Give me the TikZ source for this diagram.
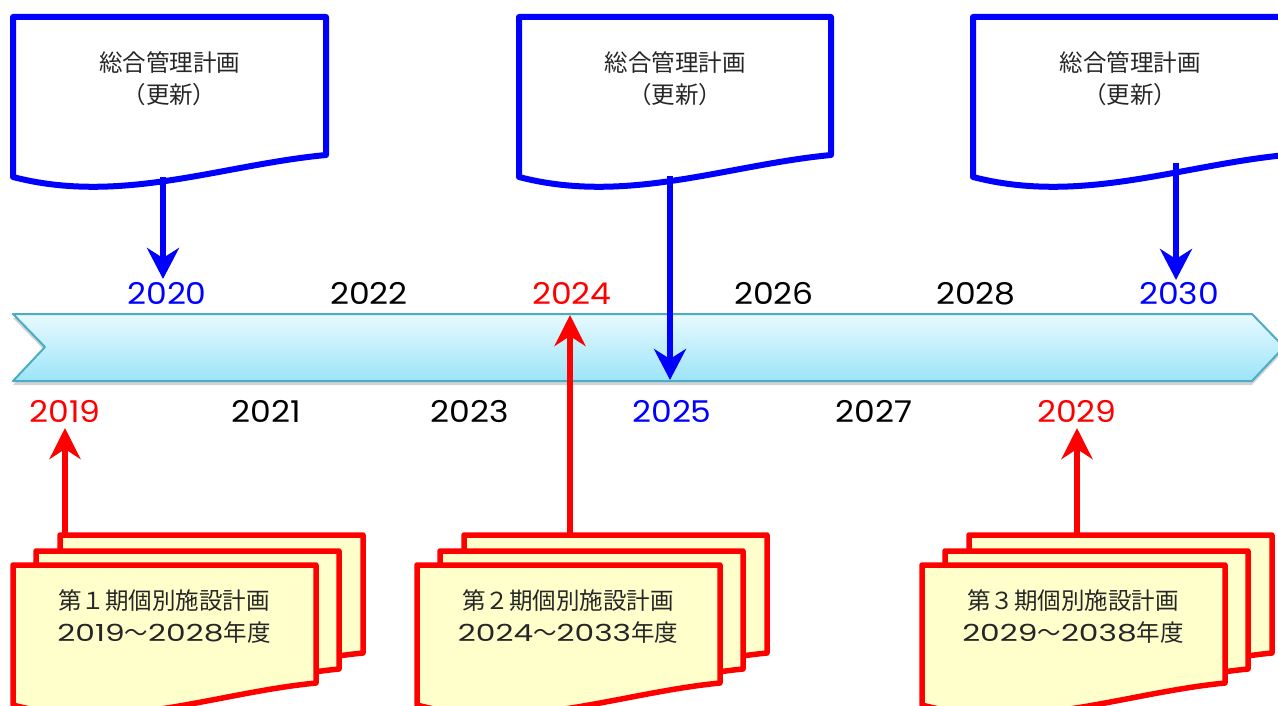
\documentclass[tikz,border=0pt]{standalone}
\usepackage{fontspec}
\setmainfont{Noto Sans CJK JP}
\newfontfamily\yearfont[FakeStretch=1.1]{Poppins}
\newfontfamily\numfont[FakeStretch=1.33]{Poppins}
\usetikzlibrary{arrows.meta,shadows}
\definecolor{docblue}{RGB}{0,0,255}
\definecolor{docred}{RGB}{255,0,0}
\definecolor{docfill}{RGB}{255,255,204}
\definecolor{bandline}{RGB}{75,172,198}
\definecolor{bandtop}{RGB}{232,250,255}
\definecolor{bandbot}{RGB}{156,228,249}
\newcommand\mydoc[5]{%
 \pgfmathsetmacro\dR{#2+#4}%
 \pgfmathsetmacro\dB{#3+#5}%
 \pgfmathsetmacro\dBr{#3+#5-22}%
 \pgfmathsetmacro\cAx{#2+0.344*#4}%
 \pgfmathsetmacro\cAy{#3+#5+28}%
 \pgfmathsetmacro\cBx{#2+0.664*#4}%
 \pgfmathsetmacro\cBy{#3+#5-12}%
 \draw[#1] (#2,#3) -- (\dR,#3) -- (\dR,\dBr) .. controls (\cBx,\cBy) and (\cAx,\cAy) .. (#2,\dB) -- cycle;
}
\tikzset{
 bluedoc/.style={draw=docblue,line width=6pt,fill=white,line join=round},
 reddoc/.style={draw=docred,line width=5.5pt,fill=docfill,line join=round},
 doctext/.style={align=center,font=\fontsize{23.5}{32}\selectfont,text=black!85},
 yr/.style={anchor=base,font=\yearfont\fontsize{30}{30}\selectfont},
 bluearrow/.style={draw=docblue,line width=5.5pt,-{Stealth[length=31pt,width=32pt,inset=10pt]}},
 redarrow/.style={draw=docred,line width=5.5pt,-{Stealth[length=31pt,width=31pt,inset=10pt]}},
}
\begin{document}
\begin{tikzpicture}[x=1pt,y=-1pt]
\useasboundingbox (0,0) rectangle (1278,706);
\clip (0,0) rectangle (1278,706);
% timeline band
\path[draw=bandline,line width=2pt,line join=round,top color=bandtop,bottom color=bandbot,
  drop shadow={shadow xshift=0pt,shadow yshift=-4pt,opacity=0.35}]
  (13,314) -- (1252,314) -- (1284,347) -- (1252,381) -- (13,381) -- (45,347) -- cycle;
% year labels
\node[yr,text=docblue] (y2020) at (167,304) {2020};
\node[yr] (y2022) at (369,304) {2022};
\node[yr,text=docred] (y2024) at (572,304) {2024};
\node[yr] (y2026) at (774,304) {2026};
\node[yr] (y2028) at (976,304) {2028};
\node[yr,text=docblue] (y2030) at (1179,304) {2030};
\node[yr,text=docred] (y2019) at (65,422) {2019};
\node[yr] (y2021) at (266,422) {2021};
\node[yr] (y2023) at (470,422) {2023};
\node[yr,text=docblue] (y2025) at (672,422) {2025};
\node[yr] (y2027) at (874,422) {2027};
\node[yr,text=docred] (y2029) at (1077,422) {2029};
% blue documents
\mydoc{bluedoc}{13}{17}{313}{160}
\mydoc{bluedoc}{519}{17}{312}{160}
\mydoc{bluedoc}{973}{17}{313}{160}
\node[doctext] (g1) at (169.5,79) {総合管理計画\\（更新）};
\node[doctext] (g2) at (675,79) {総合管理計画\\（更新）};
\node[doctext] (g3) at (1130,79) {総合管理計画\\（更新）};
\coordinate (g1s) at (163,177);
\coordinate (g2s) at (670,176);
\coordinate (g3s) at (1176,163);
\coordinate (g1t) at (163,279);
\coordinate (g2t) at (670,380);
\coordinate (g3t) at (1176,280);
\draw[bluearrow] (g1s) -- (g1t);
\draw[bluearrow] (g2s) -- (g2t);
\draw[bluearrow] (g3s) -- (g3t);
% red document stacks
\foreach \x in {13,417,922}{
  \mydoc{reddoc}{\x+47}{535}{303}{140}
  \mydoc{reddoc}{\x+23}{551}{303}{140}
  \mydoc{reddoc}{\x}{565}{303}{140}
}
\node[doctext] (p1) at (164,617) {第１期個別施設計画\\{\numfont 2019}～{\numfont 2028}年度};
\node[doctext] (p2) at (568,617) {第２期個別施設計画\\{\numfont 2024}～{\numfont 2033}年度};
\node[doctext] (p3) at (1073,617) {第３期個別施設計画\\{\numfont 2029}～{\numfont 2038}年度};
\coordinate (p1s) at (65,537);
\coordinate (p2s) at (570,537);
\coordinate (p3s) at (1077,537);
\coordinate (p1t) at (65,428);
\coordinate (p2t) at (570,315);
\coordinate (p3t) at (1077,428);
\draw[redarrow] (p1s) -- (p1t);
\draw[redarrow] (p2s) -- (p2t);
\draw[redarrow] (p3s) -- (p3t);
\end{tikzpicture}
\end{document}
